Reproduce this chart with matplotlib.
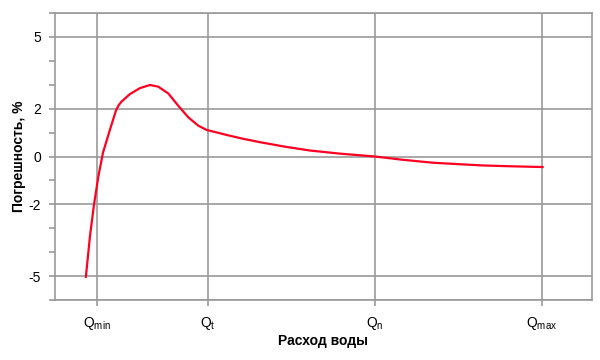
import matplotlib
matplotlib.use("Agg")
import matplotlib.pyplot as plt

plt.rcParams['font.family'] = ['Liberation Sans', 'DejaVu Sans']
plt.rcParams['mathtext.fontset'] = 'custom'
plt.rcParams['mathtext.rm'] = 'Liberation Sans'
plt.rcParams['mathtext.it'] = 'Liberation Sans'

# Data (x in units where Qt=1, Qn=2, Qmax=3)
x_vals = [0.269, 0.293, 0.317, 0.343, 0.371, 0.413, 0.449, 0.465,
          0.483, 0.533, 0.593, 0.653, 0.702, 0.762, 0.822, 0.882, 0.942, 0.992,
          1.062, 1.112, 1.211, 1.311, 1.461, 1.611, 1.79, 2.0, 2.17, 2.347,
          2.5, 2.647, 2.82, 3.004]
y_vals = [-5.03, -3.36, -2.04, -0.86, 0.15, 1.12, 1.92, 2.14,
          2.3, 2.61, 2.86, 2.99, 2.92, 2.64, 2.125, 1.64, 1.29, 1.11,
          0.99, 0.9, 0.74, 0.6, 0.41, 0.25, 0.12, 0.0, -0.14, -0.26,
          -0.32, -0.375, -0.41, -0.44]

x_tick_pos = [0.335, 1.0, 2.0, 3.0]
x_tick_labels = [r'$\mathregular{Q_{min}}$', r'$\mathregular{Q_{t}}$',
                 r'$\mathregular{Q_{n}}$', r'$\mathregular{Q_{max}}$']
y_major = [-6, -5, -2, 0, 2, 5, 6]
y_labeled = {5: '5', 2: '2', 0: '0', -2: '-2', -5: '-5'}
y_minor = [-4, -3, -1, 1, 3, 4]

fig = plt.figure(figsize=(6, 3.6), dpi=100)
ax = fig.add_axes([55/600, 60/360, 537/600, 287/360])

grid_c = '#999999'
ax.set_xlim(0.084, 3.30)
ax.set_ylim(-6, 6)

for v in y_major:
    ax.axhline(v, color=grid_c, lw=1.2, zorder=1)
for v in x_tick_pos:
    ax.axvline(v, color=grid_c, lw=1.2, zorder=1)

ax.plot(x_vals, y_vals, color='#ff0022', lw=1.6, zorder=3,
        solid_joinstyle='round')

ax.set_yticks(y_major + y_minor)
ax.set_yticklabels([y_labeled.get(v, '') for v in y_major + y_minor])
ax.set_xticks(x_tick_pos)
ax.set_xticklabels(x_tick_labels)
ax.tick_params(axis='both', colors=grid_c, length=4, width=1.2, labelsize=10,
               labelcolor='black', pad=6)
ax.tick_params(axis='x', pad=7)

for s in ax.spines.values():
    s.set_color(grid_c)
    s.set_linewidth(1.2)

ax.set_xlabel('Расход воды', fontsize=10, fontweight='bold', labelpad=1)
ax.set_ylabel('Погрешность, %', fontsize=10, fontweight='bold', labelpad=2)

fig.savefig('out.png', dpi=100)
